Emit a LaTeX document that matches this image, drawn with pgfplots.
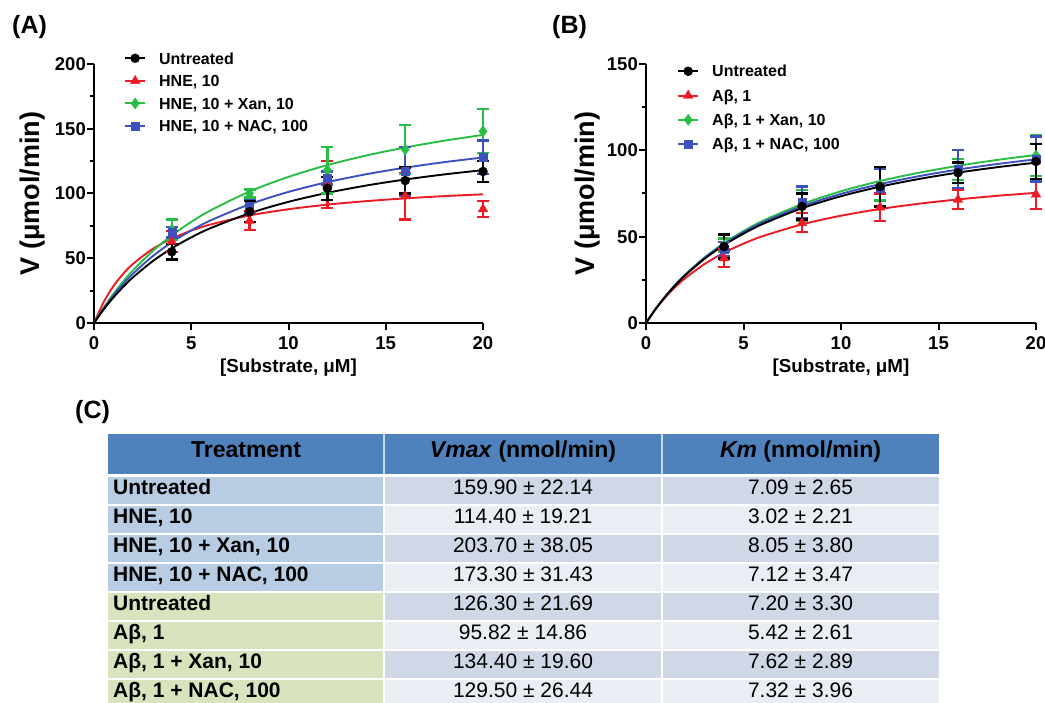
\documentclass[border=0pt]{standalone}
\usepackage{pgfplots}
\pgfplotsset{compat=1.18}
\usepackage{fontspec}
\setmainfont{Liberation Sans}

\definecolor{mred}{RGB}{237,28,36}
\definecolor{mgreen}{RGB}{40,190,70}
\definecolor{mblue}{RGB}{60,80,190}
\definecolor{hdrblue}{RGB}{79,129,189}
\definecolor{rowblue}{RGB}{184,204,228}
\definecolor{rowgreen}{RGB}{215,228,189}
\definecolor{celldark}{RGB}{208,216,232}
\definecolor{celllight}{RGB}{233,237,244}

\pgfplotsset{
  kin/.style={
    scale only axis,
    height=259pt,
    anchor=south west,
    axis lines=left,
    axis line style={line width=2.2pt,-},
    xmin=0, xmax=20, ymin=0,
    xtick={0,5,10,15,20},
    minor y tick num=1,
    tick align=outside,
    major tick length=7pt,
    minor tick length=4pt,
    tick style={line width=2pt,black},
    /pgf/number format/assume math mode=true,
    tick label style={font=\bfseries\fontsize{18.5}{20}\selectfont},
    yticklabel style={inner sep=1pt},
    xticklabel style={yshift=-3pt},
    xlabel={{[}Substrate, μM{]}},
    ylabel={V (μmol/min)},
    xlabel style={at={(axis description cs:0.5,-0.174)},anchor=center,
      font=\bfseries\fontsize{18.8}{21}\selectfont},
    ylabel style={anchor=center,font=\bfseries\fontsize{27}{30}\selectfont},
    clip=false,
    legend cell align=left,
    legend style={draw=none,fill=none,anchor=north west,inner sep=0pt,
      font=\bfseries\fontsize{16}{18}\selectfont,
      nodes={inner sep=0pt,text height=11.5pt,text depth=0pt},
      /tikz/every odd column/.append style={column sep=13pt}},
    legend image code/.code={
      \draw[line width=2pt,##1] (0pt,0pt) -- (20pt,0pt);
      \draw[##1] plot coordinates {(10pt,0pt)};},
  },
  curve/.style={#1,line width=1.9pt,smooth},
  pts/.style={#1,only marks,forget plot,
    error bars/.cd,y dir=both,y explicit,
    error bar style={line width=2.3pt,#1},
    error mark options={rotate=90,mark size=6pt,line width=2.3pt,#1}},
}

\begin{document}
\begin{tikzpicture}[x=1pt,y=1pt]
\useasboundingbox (0,0) rectangle (1045,703);
\clip (0,0) rectangle (1045,703);

\tikzset{
  plab/.style={anchor=west,inner sep=0pt,text height=0.716em,text depth=0pt,
    font=\bfseries\fontsize{25}{28}\selectfont},
  th/.style={anchor=center,inner sep=0pt,text height=0.716em,text depth=0pt,
    font=\bfseries\fontsize{23}{26}\selectfont},
  tl/.style={anchor=west,inner sep=0pt,text height=0.716em,text depth=0pt,
    font=\bfseries\fontsize{21}{24}\selectfont},
  tn/.style={anchor=center,inner sep=0pt,text height=0.716em,text depth=0pt,
    font=\fontsize{21}{24}\selectfont},
}

\node[plab] at (12,673) {(A)};
\node[plab] at (552,673) {(B)};
\node[plab] at (75,288) {(C)};

% ---------------- panel A
\begin{axis}[kin, at={(94pt,380pt)}, width=389pt, ymax=200,
  ytick={0,50,100,150,200},
  ylabel style={at={(axis description cs:-0.159,0.5)}},
  legend style={at={(axis description cs:0.077,1.045)},row sep=11.1pt}]
\addlegendimage{black,mark=*,mark size=4.5pt}
\addlegendentry{Untreated}
\addlegendimage{mred,mark=triangle*,mark size=5.5pt}
\addlegendentry{HNE, 10}
\addlegendimage{mgreen,mark=diamond*,mark size=5.5pt}
\addlegendentry{HNE, 10 + Xan, 10}
\addlegendimage{mblue,mark=square*,mark size=4pt}
\addlegendentry{HNE, 10 + NAC, 100}

\addplot[curve=mred,forget plot] coordinates {(0,0) (0.5,16.25) (1,28.46) (1.5,37.96) (2,45.58) (3,57.01) (4,65.19) (5,71.32) (6,76.10) (8,83.05) (10,87.86) (12,91.40) (14,94.10) (16,96.24) (18,97.96) (20,99.39)};
\addplot[curve=mgreen,forget plot] coordinates {(0,0) (0.5,11.91) (1,22.51) (1.5,32.00) (2,40.54) (3,55.30) (4,67.62) (5,78.05) (6,86.99) (8,101.53) (10,112.85) (12,121.92) (14,129.33) (16,135.52) (18,140.75) (20,145.24)};
\addplot[curve=mblue,forget plot] coordinates {(0,0) (0.5,11.37) (1,21.34) (1.5,30.16) (2,38.00) (3,51.37) (4,62.34) (5,71.49) (6,79.25) (8,91.69) (10,101.23) (12,108.77) (14,114.88) (16,119.93) (18,124.18) (20,127.80)};
\addplot[curve=black,forget plot] coordinates {(0,0) (0.5,10.53) (1,19.77) (1.5,27.92) (2,35.18) (3,47.54) (4,57.67) (5,66.13) (6,73.29) (8,84.77) (10,93.56) (12,100.51) (14,106.15) (16,110.80) (18,114.71) (20,118.05)};

\addplot[mark=triangle*,mark size=5.5pt,pts=mred] coordinates {(4,63) +- (0,8) (8,79) +- (0,7) (12,107) +- (0,18) (16,98) +- (0,18) (20,88) +- (0,6)};
\addplot[mark=diamond*,mark size=5.5pt,pts=mgreen] coordinates {(4,72) +- (0,8) (8,100) +- (0,3) (12,118) +- (0,18) (16,134) +- (0,19) (20,148) +- (0,17)};
\addplot[mark=square*,mark size=4pt,pts=mblue] coordinates {(4,70) +- (0,4) (8,90) +- (0,5) (12,112) +- (0,5) (16,117) +- (0,19) (20,128) +- (0,13)};
\addplot[mark=*,mark size=4.5pt,pts=black] coordinates {(4,55) +- (0,6) (8,86) +- (0,8) (12,104) +- (0,9) (16,110) +- (0,10) (20,117) +- (0,8)};
\end{axis}

% ---------------- panel B
\begin{axis}[kin, at={(646pt,380pt)}, width=390pt, ymax=150,
  ytick={0,50,100,150},
  ylabel style={at={(axis description cs:-0.151,0.5)}},
  legend style={at={(axis description cs:0.0795,0.995)},row sep=12.8pt}]
\addlegendimage{black,mark=*,mark size=4.5pt}
\addlegendentry{Untreated}
\addlegendimage{mred,mark=triangle*,mark size=5.5pt}
\addlegendentry{Aβ, 1}
\addlegendimage{mgreen,mark=diamond*,mark size=5.5pt}
\addlegendentry{Aβ, 1 + Xan, 10}
\addlegendimage{mblue,mark=square*,mark size=4pt}
\addlegendentry{Aβ, 1 + NAC, 100}

\addplot[curve=mred,forget plot] coordinates {(0,0) (0.5,8.09) (1,14.93) (1.5,20.77) (2,25.83) (3,34.14) (4,40.69) (5,45.98) (6,50.34) (8,57.12) (10,62.14) (12,66.01) (14,69.08) (16,71.57) (18,73.65) (20,75.39)};
\addplot[curve=mgreen,forget plot] coordinates {(0,0) (0.5,8.28) (1,15.59) (1.5,22.11) (2,27.94) (3,37.97) (4,46.27) (5,53.25) (6,59.21) (8,68.83) (10,76.28) (12,82.20) (14,87.03) (16,91.04) (18,94.43) (20,97.32)};
\addplot[curve=mblue,forget plot] coordinates {(0,0) (0.5,8.28) (1,15.56) (1.5,22.02) (2,27.79) (3,37.65) (4,45.76) (5,52.56) (6,58.33) (8,67.62) (10,74.77) (12,80.43) (14,85.04) (16,88.85) (18,92.06) (20,94.80)};
\addplot[curve=black,forget plot] coordinates {(0,0) (0.5,8.20) (1,15.40) (1.5,21.78) (2,27.46) (3,37.15) (4,45.11) (5,51.76) (6,57.41) (8,66.47) (10,73.43) (12,78.94) (14,83.41) (16,87.10) (18,90.21) (20,92.87)};

\addplot[mark=triangle*,mark size=5.5pt,pts=mred] coordinates {(4,37.5) +- (0,5) (8,58) +- (0,5.5) (12,67) +- (0,8) (16,71.5) +- (0,5.5) (20,74.5) +- (0,8.5)};
\addplot[mark=diamond*,mark size=5.5pt,pts=mgreen] coordinates {(4,45) +- (0,4) (8,68) +- (0,9) (12,80) +- (0,9) (16,89) +- (0,6) (20,97) +- (0,12)};
\addplot[mark=square*,mark size=4pt,pts=mblue] coordinates {(4,43) +- (0,4) (8,70) +- (0,9) (12,78) +- (0,11) (16,89) +- (0,11) (20,95) +- (0,13)};
\addplot[mark=*,mark size=4.5pt,pts=black] coordinates {(4,44.3) +- (0,7) (8,67.5) +- (0,7.5) (12,79) +- (0,11.5) (16,87) +- (0,6) (20,93.5) +- (0,10)};
\end{axis}

% ---------------- table C
\fill[hdrblue] (108,229) rectangle (939,269);
\draw[white!70!hdrblue,line width=1.5pt] (384,229) -- (384,269) (662,229) -- (662,269);
\foreach \i in {0,...,7}{
  \ifnum\i<4 \def\lc{rowblue}\else\def\lc{rowgreen}\fi
  \ifodd\i \def\dc{celllight}\else\def\dc{celldark}\fi
  \fill[\lc] (108,199-29*\i) rectangle (383,226-29*\i);
  \fill[\dc] (385,199-29*\i) rectangle (661,226-29*\i);
  \fill[\dc] (663,199-29*\i) rectangle (939,226-29*\i);
}
\node[th] at (246,249) {Treatment};
\node[th] at (523,249) {\textit{Vmax} (nmol/min)};
\node[th] at (800.5,249) {\textit{Km} (nmol/min)};

\node[tl] at (113,212.5) {Untreated};
\node[tl] at (113,183.5) {HNE, 10};
\node[tl] at (113,154.5) {HNE, 10 + Xan, 10};
\node[tl] at (113,125.5) {HNE, 10 + NAC, 100};
\node[tl] at (113,96.5) {Untreated};
\node[tl] at (113,67.5) {Aβ, 1};
\node[tl] at (113,38.5) {Aβ, 1 + Xan, 10};
\node[tl] at (113,9.5) {Aβ, 1 + NAC, 100};

\node[tn] at (523,212.5) {159.90 ± 22.14};
\node[tn] at (523,183.5) {114.40 ± 19.21};
\node[tn] at (523,154.5) {203.70 ± 38.05};
\node[tn] at (523,125.5) {173.30 ± 31.43};
\node[tn] at (523,96.5) {126.30 ± 21.69};
\node[tn] at (523,67.5) {95.82 ± 14.86};
\node[tn] at (523,38.5) {134.40 ± 19.60};
\node[tn] at (523,9.5) {129.50 ± 26.44};

\node[tn] at (800.5,212.5) {7.09 ± 2.65};
\node[tn] at (800.5,183.5) {3.02 ± 2.21};
\node[tn] at (800.5,154.5) {8.05 ± 3.80};
\node[tn] at (800.5,125.5) {7.12 ± 3.47};
\node[tn] at (800.5,96.5) {7.20 ± 3.30};
\node[tn] at (800.5,67.5) {5.42 ± 2.61};
\node[tn] at (800.5,38.5) {7.62 ± 2.89};
\node[tn] at (800.5,9.5) {7.32 ± 3.96};
\end{tikzpicture}
\end{document}
